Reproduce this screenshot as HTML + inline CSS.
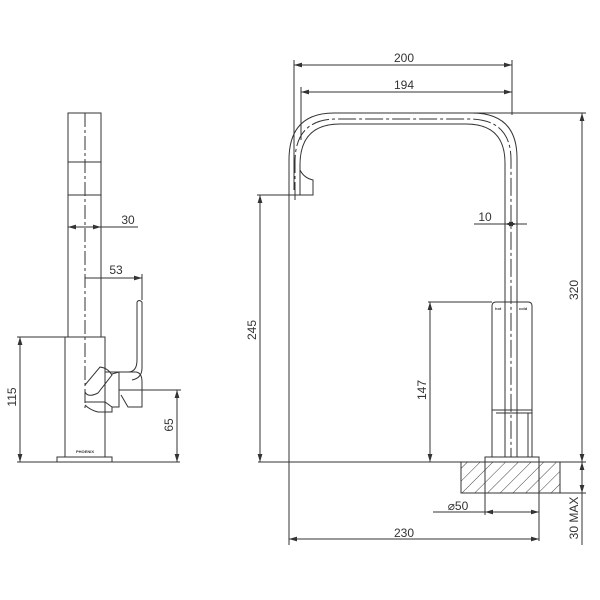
<!DOCTYPE html>
<html><head><meta charset="utf-8"><style>
html,body{margin:0;padding:0;background:#fff;}
svg{display:block;}
text{font-family:"Liberation Sans",sans-serif;fill:#333;}
</style></head><body>
<svg width="600" height="600" viewBox="0 0 600 600" xmlns="http://www.w3.org/2000/svg">
<defs>
<marker id="a" viewBox="0 0 10 6" refX="10" refY="3" markerWidth="8" markerHeight="5" orient="auto-start-reverse" markerUnits="userSpaceOnUse"><path d="M0,0L10,3L0,6z" fill="#333"/></marker>
<pattern id="h" patternUnits="userSpaceOnUse" width="9" height="9" patternTransform="rotate(45)"><line x1="0" y1="0" x2="0" y2="9" stroke="#444" stroke-width="1"/></pattern>
</defs>
<g stroke="#333" stroke-width="1" fill="none">
<!-- LEFT VIEW -->
<rect x="68" y="113" width="33" height="224"/>
<line x1="68" y1="162" x2="101" y2="162"/>
<line x1="68" y1="195" x2="101" y2="195"/>
<line x1="85" y1="113" x2="85" y2="408" stroke-dasharray="14,3,3,3"/>
<rect x="65" y="337" width="40" height="120"/>
<rect x="57" y="457" width="55" height="5"/>
<path d="M137,302 L137,360 Q137,372 128,372 L112,372 L105,372"/>
<path d="M142,302 L142,368 Q142,378 132,380"/>
<path d="M137,302 Q139,299 142,302"/>
<path d="M85,385 L100,367 Q108,368 112,375 L98,393 Q88,398 85,392"/>
<path d="M112,374 L119,372 L119,407 L112,407"/>
<path d="M119,372 L135,372 Q142,372 142,382 L142,407 L128,407 L121,395"/>
<line x1="119" y1="390" x2="142" y2="390"/>
<path d="M85,402 L105,402 L112,407 L112,412 L98,412 Q90,410 85,405"/>
<!-- dims left -->
<line x1="68" y1="227" x2="101" y2="227" marker-start="url(#a)" marker-end="url(#a)"/>
<line x1="101" y1="227" x2="138" y2="227"/>
<line x1="85" y1="278" x2="142" y2="278" marker-end="url(#a)"/>
<line x1="142" y1="274" x2="142" y2="300"/>
<line x1="17" y1="337" x2="65" y2="337"/>
<line x1="20" y1="337" x2="20" y2="462" marker-start="url(#a)" marker-end="url(#a)"/>
<line x1="17" y1="462" x2="180" y2="462"/>
<line x1="140" y1="390" x2="181" y2="390"/>
<line x1="177" y1="390" x2="177" y2="462" marker-start="url(#a)" marker-end="url(#a)"/>
<!-- RIGHT VIEW spout -->
<path d="M289,195 L289,160 Q289,113 334,113 L472,113 Q517,113 517,158 L517,302"/>
<path d="M300,195 L300,165 Q300,124 340,124 L466,124 Q505,124 505,163 L505,302"/>
<path d="M295,200 L295,162 Q295,119 337,119 L469,119 Q511,119 511,160 L511,457" stroke-dasharray="18,3,3,3"/>
<path d="M300,170 Q304,178 313,180 L313,195 L289,195"/>
<!-- body -->
<path d="M492,457 L492,306 Q492,302 496,302 L528,302 Q532,302 532,306 L532,457"/>
<line x1="492" y1="410" x2="532" y2="410"/>
<line x1="496" y1="413" x2="532" y2="413"/>
<line x1="528" y1="413" x2="528" y2="457"/>
<line x1="505" y1="302" x2="505" y2="457"/>
<line x1="517" y1="302" x2="517" y2="457"/>
<rect x="485" y="457" width="54" height="5"/>
<rect x="461" y="462" width="99" height="31" fill="url(#h)"/>
<line x1="485" y1="462" x2="485" y2="515"/>
<line x1="539" y1="462" x2="539" y2="541"/>
<!-- dims right -->
<line x1="294" y1="60" x2="294" y2="190"/>
<line x1="512" y1="60" x2="512" y2="115"/>
<line x1="301" y1="87" x2="301" y2="140"/>
<line x1="294" y1="65" x2="512" y2="65" marker-start="url(#a)" marker-end="url(#a)"/>
<line x1="301" y1="92" x2="512" y2="92" marker-start="url(#a)" marker-end="url(#a)"/>
<line x1="473" y1="113" x2="586" y2="113"/>
<line x1="582" y1="113" x2="582" y2="462" marker-start="url(#a)" marker-end="url(#a)"/>
<line x1="474" y1="224" x2="505" y2="224"/>
<line x1="505" y1="224" x2="517" y2="224" marker-start="url(#a)" marker-end="url(#a)"/>
<line x1="517" y1="224" x2="527" y2="224"/>
<line x1="257" y1="195" x2="300" y2="195"/>
<line x1="260" y1="195" x2="260" y2="462" marker-start="url(#a)" marker-end="url(#a)"/>
<line x1="289" y1="195" x2="289" y2="545"/>
<line x1="258" y1="462" x2="586" y2="462"/>
<line x1="428" y1="302" x2="492" y2="302"/>
<line x1="430" y1="302" x2="430" y2="462" marker-start="url(#a)" marker-end="url(#a)"/>
<line x1="560" y1="493" x2="586" y2="493"/>
<line x1="582" y1="462" x2="582" y2="493" marker-start="url(#a)" marker-end="url(#a)"/>
<line x1="582" y1="493" x2="582" y2="545"/>
<line x1="433" y1="512" x2="485" y2="512"/>
<line x1="485" y1="512" x2="539" y2="512" marker-start="url(#a)" marker-end="url(#a)"/>
<line x1="289" y1="539" x2="539" y2="539" marker-start="url(#a)" marker-end="url(#a)"/>
</g>
<g font-size="12">
<text x="404" y="62" text-anchor="middle">200</text>
<text x="404" y="89" text-anchor="middle">194</text>
<text x="485" y="221" text-anchor="middle">10</text>
<text x="404" y="537" text-anchor="middle">230</text>
<text x="458" y="510" text-anchor="middle">⌀50</text>
<text x="128" y="224" text-anchor="middle">30</text>
<text x="116" y="274" text-anchor="middle">53</text>
<text transform="translate(256,330) rotate(-90)" text-anchor="middle">245</text>
<text transform="translate(426,390) rotate(-90)" text-anchor="middle">147</text>
<text transform="translate(578,290) rotate(-90)" text-anchor="middle">320</text>
<text transform="translate(578,518) rotate(-90)" text-anchor="middle">30 MAX</text>
<text transform="translate(16,397) rotate(-90)" text-anchor="middle">115</text>
<text transform="translate(173,425) rotate(-90)" text-anchor="middle">65</text>
</g>
<g font-size="4" font-weight="bold">
<text x="495" y="310">hot</text>
<text x="519" y="310">cold</text>
<text x="76" y="453">PHOENIX</text>
</g>
</svg>
</body></html>
